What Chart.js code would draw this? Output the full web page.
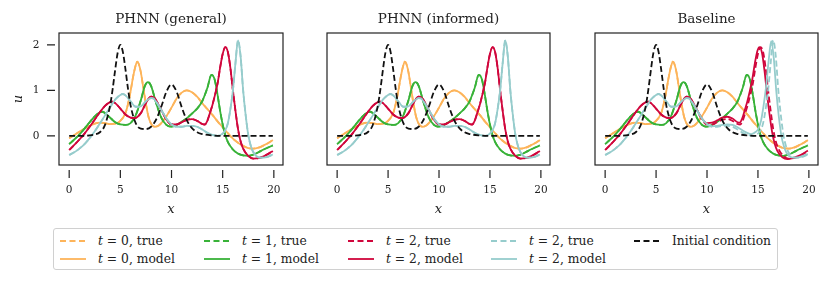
<!DOCTYPE html>
<html>
<head>
<meta charset="utf-8">
<script src="https://cdn.jsdelivr.net/npm/chart.js@4"></script>
<style>
body { margin: 0; width: 830px; height: 283px; background: #fff; position: relative; overflow: hidden; font-family: "DejaVu Serif", serif; color: #222; }
canvas { position: absolute; top: 0; }
#legend { position: absolute; left: 53px; top: 228px; width: 725px; height: 42px; border: 1px solid #d0d0d0; border-radius: 3px; box-sizing: border-box; }
.item { position: absolute; font-size: 12.3px; line-height: 14px; white-space: nowrap; }
.item svg { position: absolute; left: 0; top: 5px; }
.item span { position: absolute; left: 38px; top: 0; }
</style>
</head>
<body>
<canvas id="p1" width="290" height="222" style="left:0px"></canvas>
<canvas id="p2" width="258" height="222" style="left:300px"></canvas>
<canvas id="p3" width="258" height="222" style="left:570px"></canvas>
<div id="legend"></div>
<script>
// axis ticks
var xTicks = [0, 5, 10, 15, 20];
var yTicks = [0, 1, 2];

// [x, u]
var initialCond = [[0,0],[1,0],[2,0.01],[2.5,0.03],[3,0.08],[3.5,0.24],[4,0.67],[4.25,1.03],[4.5,1.46],[4.75,1.84],[5,2.0],[5.25,1.84],[5.5,1.46],[5.75,1.03],[6,0.67],[6.5,0.28],[7,0.16],[7.5,0.15],[8,0.2],[8.5,0.36],[9,0.64],[9.5,0.97],[10,1.13],[10.5,0.97],[11,0.63],[11.5,0.34],[12,0.17],[12.5,0.08],[13,0.04],[14,0.01],[15,0],[19.9,0]];

var t0 = [[0,-0.05],[0.5,0.02],[1,0.09],[1.5,0.16],[2,0.22],[2.5,0.27],[3,0.29],[3.5,0.28],[4,0.26],[4.5,0.27],[5,0.33],[5.5,0.5],[5.75,0.7],[6,0.98],[6.25,1.3],[6.5,1.55],[6.65,1.63],[6.8,1.58],[7,1.4],[7.25,1.05],[7.5,0.7],[7.75,0.42],[8,0.27],[8.35,0.2],[8.75,0.23],[9,0.28],[9.5,0.43],[10,0.62],[10.5,0.82],[11,0.95],[11.5,1.0],[12,0.96],[12.5,0.86],[13,0.72],[13.5,0.59],[14,0.46],[14.5,0.32],[15,0.19],[15.5,0.06],[16,-0.06],[16.5,-0.15],[17,-0.22],[17.5,-0.27],[18,-0.28],[18.5,-0.26],[19,-0.21],[19.5,-0.15],[19.9,-0.09]];

var t1 = [[0,-0.18],[0.5,-0.08],[1,0.03],[1.5,0.16],[2,0.3],[2.5,0.43],[3,0.52],[3.25,0.53],[3.5,0.5],[4,0.4],[4.5,0.3],[5,0.25],[5.5,0.24],[6,0.28],[6.5,0.45],[7,0.78],[7.4,1.1],[7.7,1.18],[8,1.1],[8.5,0.72],[9,0.4],[9.5,0.24],[10,0.2],[10.5,0.24],[11,0.31],[11.5,0.39],[12,0.49],[12.5,0.6],[13,0.76],[13.5,1.05],[13.9,1.34],[14.2,1.25],[14.5,0.9],[14.75,0.55],[15,0.25],[15.25,0.02],[15.5,-0.13],[16,-0.3],[16.5,-0.39],[17,-0.43],[17.5,-0.44],[18,-0.41],[18.5,-0.36],[19,-0.3],[19.5,-0.25],[19.9,-0.21]];

var t2 = [[0,-0.31],[0.5,-0.2],[1,-0.08],[1.5,0.05],[2,0.2],[2.5,0.36],[3,0.52],[3.5,0.66],[4,0.74],[4.25,0.75],[4.5,0.72],[5,0.6],[5.5,0.47],[6,0.4],[6.4,0.39],[7,0.5],[7.5,0.72],[8,0.86],[8.25,0.85],[8.5,0.78],[9,0.57],[9.5,0.36],[10,0.25],[10.5,0.25],[11,0.3],[11.5,0.35],[12,0.37],[12.5,0.33],[13,0.26],[13.25,0.25],[13.5,0.33],[13.75,0.5],[14,0.68],[14.25,0.9],[14.5,1.15],[14.75,1.5],[15,1.8],[15.25,1.95],[15.5,1.85],[15.75,1.5],[16,1.0],[16.25,0.55],[16.5,0.15],[16.75,-0.12],[17,-0.28],[17.5,-0.44],[18,-0.5],[18.5,-0.49],[19,-0.45],[19.5,-0.39],[19.9,-0.33]];

var t3 = [[0,-0.42],[0.5,-0.36],[1,-0.28],[1.5,-0.18],[2,-0.05],[2.5,0.1],[3,0.27],[3.5,0.45],[4,0.63],[4.5,0.8],[5,0.9],[5.25,0.92],[5.5,0.89],[6,0.76],[6.5,0.64],[7,0.65],[7.5,0.76],[8,0.83],[8.25,0.82],[8.5,0.75],[9,0.57],[9.5,0.38],[10,0.25],[10.5,0.2],[11,0.2],[11.5,0.22],[12,0.22],[12.5,0.2],[13,0.14],[13.5,0.07],[14,0.02],[14.5,0.0],[15,0.05],[15.25,0.12],[15.5,0.27],[15.75,0.58],[16,1.0],[16.25,1.6],[16.5,2.1],[16.75,1.75],[17,1.0],[17.25,0.45],[17.5,0.02],[17.75,-0.22],[18,-0.36],[18.5,-0.47],[19,-0.48],[19.5,-0.45],[19.9,-0.41]];

// baseline model drifts a little from the truth for the later times
var baseT2 = [[0,-0.31],[0.5,-0.2],[1,-0.08],[1.5,0.05],[2,0.2],[2.5,0.36],[3,0.52],[3.5,0.66],[4,0.74],[4.25,0.75],[4.5,0.72],[5,0.6],[5.5,0.47],[6,0.4],[6.4,0.39],[7,0.5],[7.5,0.72],[8,0.86],[8.25,0.85],[8.5,0.78],[9,0.58],[9.5,0.38],[10,0.28],[10.5,0.29],[11,0.34],[11.5,0.4],[12,0.42],[12.5,0.38],[13,0.3],[13.2,0.29],[13.45,0.38],[13.7,0.56],[13.95,0.75],[14.2,0.98],[14.45,1.25],[14.7,1.6],[14.95,1.87],[15.15,1.95],[15.4,1.82],[15.65,1.42],[15.9,0.9],[16.15,0.45],[16.4,0.07],[16.65,-0.18],[16.9,-0.33],[17.4,-0.47],[17.9,-0.51],[18.4,-0.49],[19,-0.44],[19.5,-0.38],[19.9,-0.32]];

var baseT3 = [[0,-0.42],[0.5,-0.36],[1,-0.28],[1.5,-0.18],[2,-0.05],[2.5,0.1],[3,0.27],[3.5,0.45],[4,0.63],[4.5,0.8],[5,0.9],[5.25,0.92],[5.5,0.89],[6,0.76],[6.5,0.64],[7,0.65],[7.5,0.76],[8,0.83],[8.25,0.82],[8.5,0.75],[9,0.57],[9.5,0.38],[10,0.26],[10.5,0.21],[11,0.22],[11.5,0.24],[12,0.25],[12.5,0.24],[13,0.19],[13.5,0.12],[14,0.06],[14.35,0.04],[14.8,0.09],[15.05,0.16],[15.3,0.33],[15.55,0.66],[15.8,1.08],[16.05,1.65],[16.3,2.08],[16.55,1.72],[16.8,0.98],[17.05,0.42],[17.3,0.0],[17.55,-0.23],[17.8,-0.37],[18.3,-0.47],[18.8,-0.48],[19.4,-0.44],[19.9,-0.4]];

var colors = ["#fdb45a", "#38b238", "#d0063c", "#96cccc"];
var legendLabels = ["0", "1", "2", "2"];
var FONT = "'DejaVu Serif', serif";

var frameAndTicks = {
    id: "frameAndTicks",
    afterDraw: function (chart, args, opts) {
        var ctx = chart.ctx, a = chart.chartArea, sx = chart.scales.x, sy = chart.scales.y;
        ctx.save();
        ctx.strokeStyle = "#222";
        ctx.lineWidth = 1.2;
        ctx.strokeRect(a.left, a.top, a.right - a.left, a.bottom - a.top);
        ctx.beginPath();
        sx.ticks.forEach(function (t) {
            var px = sx.getPixelForValue(t.value);
            ctx.moveTo(px, a.bottom + 5);
            ctx.lineTo(px, a.bottom + 13);
        });
        if (opts.yTicks) {
            sy.ticks.forEach(function (t) {
                var py = sy.getPixelForValue(t.value);
                ctx.moveTo(a.left - 4, py);
                ctx.lineTo(a.left - 12, py);
            });
        }
        ctx.stroke();
        ctx.restore();
    },
};

function pts(arr) {
    return arr.map(function (p) { return { x: p[0], y: p[1] }; });
}

function line(arr, color, dashed) {
    return {
        data: pts(arr),
        borderColor: color,
        borderWidth: 1.8,
        borderDash: dashed ? [6, 3] : [],
        pointRadius: 0,
        cubicInterpolationMode: "monotone",
        fill: false,
    };
}

function panel(id, title, model, yWidth, padRight, first) {
    var truth = [t0, t1, t2, t3];
    var sets = [];
    for (var i = 0; i < 4; i++) {
        sets.push(line(truth[i], colors[i], true));
        sets.push(line(model[i], colors[i], false));
    }
    sets.push(line(initialCond, "#111", true));
    // matplotlib draws later lines on top
    sets.forEach(function (s, i) { s.order = sets.length - i; });

    return new Chart(document.getElementById(id).getContext("2d"), {
        type: "line",
        data: { datasets: sets },
        options: {
            responsive: false,
            animation: false,
            devicePixelRatio: 1,
            layout: { padding: { left: 0, right: padRight, top: 0, bottom: 0 } },
            plugins: {
                legend: { display: false },
                tooltip: { enabled: false },
                title: {
                    display: true,
                    text: title,
                    fullSize: false,
                    color: "#222",
                    font: { family: FONT, size: 13.5, weight: "normal" },
                    padding: { top: 10.9, bottom: 5.9 },
                },
                frameAndTicks: { yTicks: first },
            },
            scales: {
                x: {
                    type: "linear",
                    min: -0.995,
                    max: 20.895,
                    afterBuildTicks: function (s) { s.ticks = xTicks.map(function (v) { return { value: v }; }); },
                    afterFit: function (s) { s.height = 57; },
                    grid: { display: true, drawOnChartArea: false, drawTicks: true, tickLength: 13, color: "rgba(0,0,0,0)" },
                    border: { display: false },
                    ticks: { padding: 6.4, color: "#222", font: { family: FONT, size: 10.5 }, maxRotation: 0, autoSkip: false },
                    title: { display: true, text: "x", color: "#222", font: { family: FONT, size: 13, style: "italic" }, padding: { top: 0, bottom: 4.2 } },
                },
                y: {
                    type: "linear",
                    min: -0.64,
                    max: 2.26,
                    afterBuildTicks: function (s) { s.ticks = yTicks.map(function (v) { return { value: v }; }); },
                    afterFit: function (s) { s.width = yWidth; },
                    grid: { display: true, drawOnChartArea: false, drawTicks: true, tickLength: 12, color: "rgba(0,0,0,0)" },
                    border: { display: false },
                    ticks: { display: first, padding: 7.5, color: "#222", font: { family: FONT, size: 10.5 } },
                    title: { display: first, text: "u", color: "#222", font: { family: FONT, size: 13, style: "italic" }, padding: { top: 11.2, bottom: 0 } },
                },
            },
        },
        plugins: [frameAndTicks],
    });
}

panel("p1", "PHNN (general)", [t0, t1, t2, t3], 59, 7, true);
panel("p2", "PHNN (informed)", [t0, t1, t2, t3], 27, 8, false);
panel("p3", "Baseline", [t0, t1, baseT2, baseT3], 25, 10, false);

// legend, column-major like matplotlib's ncol=5
var legend = document.getElementById("legend");
var colX = [6, 150, 294, 437, 580];
var rowY = [5, 23];
function addItem(col, row, color, dashed, html) {
    var d = document.createElement("div");
    d.className = "item";
    d.style.left = colX[col] + "px";
    d.style.top = rowY[row] + "px";
    d.innerHTML = '<svg width="26" height="4"><line x1="0" y1="2" x2="26" y2="2" stroke="' + color +
        '" stroke-width="1.8"' + (dashed ? ' stroke-dasharray="6,3.5"' : "") + "/></svg><span>" + html + "</span>";
    legend.appendChild(d);
}
for (var i = 0; i < 4; i++) {
    addItem(i, 0, colors[i], true, "<i>t</i> = " + legendLabels[i] + ", true");
    addItem(i, 1, colors[i], false, "<i>t</i> = " + legendLabels[i] + ", model");
}
addItem(4, 0, "#111", true, "Initial condition");
</script>
</body>
</html>
